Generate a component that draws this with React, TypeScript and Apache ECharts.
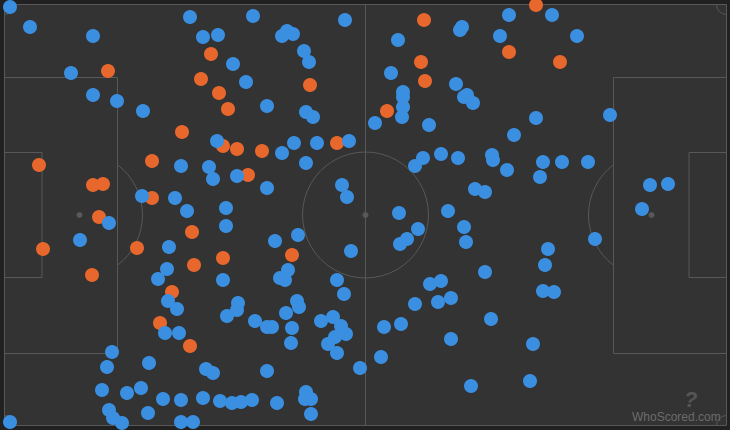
import React, { useEffect, useRef } from "react";
import * as echarts from "echarts";

// Event positions (x along the pitch, y across it, same frame as the chart)
const orangePoints: number[][] = [
  [108, 71], [182, 132], [211, 54], [201, 79], [310, 85], [219, 93], [228, 109], [223, 146],
  [237, 149], [262, 151], [337, 143], [536, 5], [424, 20], [509, 52], [421, 62], [425, 81],
  [387, 111], [560, 62], [39, 165], [93, 185], [103, 184], [152, 161], [152, 198], [248, 175],
  [99, 217], [43, 249], [137, 248], [92, 275], [192, 232], [292, 255], [223, 258], [194, 265],
  [172, 292], [160, 323], [190, 346],
];

const bluePoints: number[][] = [
  [10, 7], [30, 27], [93, 36], [71, 73], [93, 95], [117, 101], [143, 111], [190, 17], [253, 16],
  [345, 20], [203, 37], [218, 35], [282, 36], [287, 31], [293, 34], [304, 51], [309, 62], [233, 64],
  [246, 82], [267, 106], [306, 112], [313, 117], [217, 141], [294, 143], [317, 143], [349, 141],
  [509, 15], [462, 27], [460, 30], [398, 40], [500, 36], [391, 73], [456, 84], [403, 92], [403, 97],
  [464, 97], [467, 95], [473, 103], [403, 107], [375, 123], [402, 117], [429, 125], [536, 118],
  [514, 135], [552, 15], [577, 36], [610, 115],
  [181, 166], [142, 196], [175, 198], [187, 211], [109, 223], [80, 240], [169, 247], [167, 269],
  [158, 279], [282, 153], [306, 163], [209, 167], [213, 179], [237, 176], [267, 188], [342, 185],
  [347, 197], [226, 208], [226, 226], [275, 241], [298, 235], [351, 251], [288, 270], [280, 278],
  [285, 280], [223, 280], [337, 280],
  [415, 166], [423, 158], [441, 154], [458, 158], [492, 155], [493, 160], [507, 170], [543, 162],
  [540, 177], [475, 189], [485, 192], [399, 213], [448, 211], [418, 229], [407, 239], [400, 244],
  [464, 227], [466, 242], [548, 249], [545, 265], [485, 272], [430, 284], [441, 281],
  [562, 162], [588, 162], [650, 185], [668, 184], [642, 209], [595, 239],
  [10, 422], [112, 352], [107, 367], [102, 390], [127, 393], [141, 388], [149, 363], [109, 410],
  [113, 418], [122, 423], [148, 413], [163, 399], [181, 400], [181, 422], [168, 301], [177, 309],
  [165, 333], [179, 333],
  [344, 294], [238, 303], [237, 310], [227, 316], [255, 321], [267, 327], [272, 327], [286, 313],
  [297, 301], [299, 307], [292, 328], [291, 343], [321, 321], [333, 317], [341, 326], [346, 334],
  [335, 337], [328, 344], [337, 353], [360, 368], [206, 369], [213, 373], [267, 371], [203, 398],
  [220, 401], [232, 403], [241, 402], [252, 400], [277, 403], [306, 392], [311, 399], [305, 399],
  [311, 414], [193, 422],
  [415, 304], [438, 302], [451, 298], [384, 327], [401, 324], [491, 319], [451, 339], [381, 357],
  [533, 344], [471, 386], [530, 381], [543, 291], [554, 292],
];

// Pitch geometry in the same units
const PITCH = {
  left: 4.5,
  top: 4.5,
  right: 726.5,
  bottom: 425.5,
  midX: 365.5,
  midY: 215,
  boxDepth: 113,
  boxTop: 77.5,
  boxBottom: 353.5,
  sixDepth: 37.5,
  sixTop: 152.5,
  sixBottom: 277.5,
  spotDist: 75,
  circleR: 63,
  cornerR: 10,
};

const BG = "#212121";
const PITCH_FILL = "#333333";
const LINE = "#585858";
const BLUE = "#3b8fe0";
const ORANGE = "#e8672c";

export default function App() {
  const ref = useRef<HTMLDivElement>(null);

  useEffect(() => {
    const chart = echarts.init(ref.current!, null, { renderer: "svg" });

    const renderPitch = (_params: any, api: any) => {
      const c = (x: number, y: number) => api.coord([x, y]);
      const len = (d: number) => api.size([d, 0])[0];
      const stroke = { stroke: LINE, lineWidth: 1, fill: "none" };
      const rect = (x1: number, y1: number, x2: number, y2: number, fill?: string) => {
        const a = c(x1, y1);
        const b = c(x2, y2);
        return {
          type: "rect",
          shape: {
            x: Math.min(a[0], b[0]),
            y: Math.min(a[1], b[1]),
            width: Math.abs(b[0] - a[0]),
            height: Math.abs(b[1] - a[1]),
          },
          style: { ...stroke, fill: fill ?? "none" },
        };
      };
      const spot = (x: number, y: number) => {
        const p = c(x, y);
        return { type: "circle", shape: { cx: p[0], cy: p[1], r: 3 }, style: { fill: LINE } };
      };
      const arc = (x: number, y: number, r: number, s: number, e: number) => {
        const p = c(x, y);
        return {
          type: "arc",
          shape: { cx: p[0], cy: p[1], r: len(r), startAngle: s, endAngle: e, clockwise: true },
          style: stroke,
        };
      };
      const P = PITCH;
      const half = P.midY;
      const a = Math.acos((P.boxDepth - P.spotDist) / P.circleR);
      const top = c(P.midX, P.top);
      const bot = c(P.midX, P.bottom);
      const mid = c(P.midX, half);
      return {
        type: "group",
        children: [
          rect(P.left, P.top, P.right, P.bottom, PITCH_FILL),
          { type: "line", shape: { x1: top[0], y1: top[1], x2: bot[0], y2: bot[1] }, style: stroke },
          { type: "circle", shape: { cx: mid[0], cy: mid[1], r: len(P.circleR) }, style: stroke },
          spot(P.midX, half),
          rect(P.left, P.boxTop, P.left + P.boxDepth, P.boxBottom),
          rect(P.right - P.boxDepth, P.boxTop, P.right, P.boxBottom),
          rect(P.left, P.sixTop, P.left + P.sixDepth, P.sixBottom),
          rect(P.right - P.sixDepth, P.sixTop, P.right, P.sixBottom),
          spot(P.left + P.spotDist, half),
          spot(P.right - P.spotDist, half),
          arc(P.left + P.spotDist, half, P.circleR, -a, a),
          arc(P.right - P.spotDist, half, P.circleR, Math.PI - a, Math.PI + a),
          arc(P.left, P.top, P.cornerR, 0, Math.PI / 2),
          arc(P.right, P.top, P.cornerR, Math.PI / 2, Math.PI),
          arc(P.right, P.bottom, P.cornerR, Math.PI, Math.PI * 1.5),
          arc(P.left, P.bottom, P.cornerR, Math.PI * 1.5, Math.PI * 2),
        ],
      };
    };

    chart.setOption({
      animation: false,
      backgroundColor: BG,
      grid: { left: 0, right: 0, top: 0, bottom: 0 },
      xAxis: { type: "value", min: 0, max: 730, show: false },
      yAxis: { type: "value", min: 0, max: 430, inverse: true, show: false },
      series: [
        {
          type: "custom",
          data: [[0, 0]],
          renderItem: renderPitch,
          silent: true,
          z: 1,
        },
        {
          type: "scatter",
          name: "orange",
          data: orangePoints,
          symbolSize: 14,
          itemStyle: { color: ORANGE, opacity: 1 },
          silent: true,
          z: 2,
        },
        {
          type: "scatter",
          name: "blue",
          data: bluePoints,
          symbolSize: 14,
          itemStyle: { color: BLUE, opacity: 1 },
          silent: true,
          z: 3,
        },
      ],
      graphic: [
        {
          type: "text",
          left: 684,
          top: 388,
          z: 10,
          style: {
            text: "?",
            fill: "#555555",
            font: "italic bold 22px 'Liberation Sans', Arial, sans-serif",
          },
        },
        {
          type: "text",
          left: 632,
          top: 411,
          z: 10,
          style: {
            text: "WhoScored.com",
            fill: "#6b6b6b",
            font: "12px 'Liberation Sans', Arial, sans-serif",
          },
        },
      ],
    });

    return () => chart.dispose();
  }, []);

  return (
    <div
      ref={ref}
      style={{ position: "fixed", left: 0, top: 0, width: 730, height: 430 }}
    />
  );
}
